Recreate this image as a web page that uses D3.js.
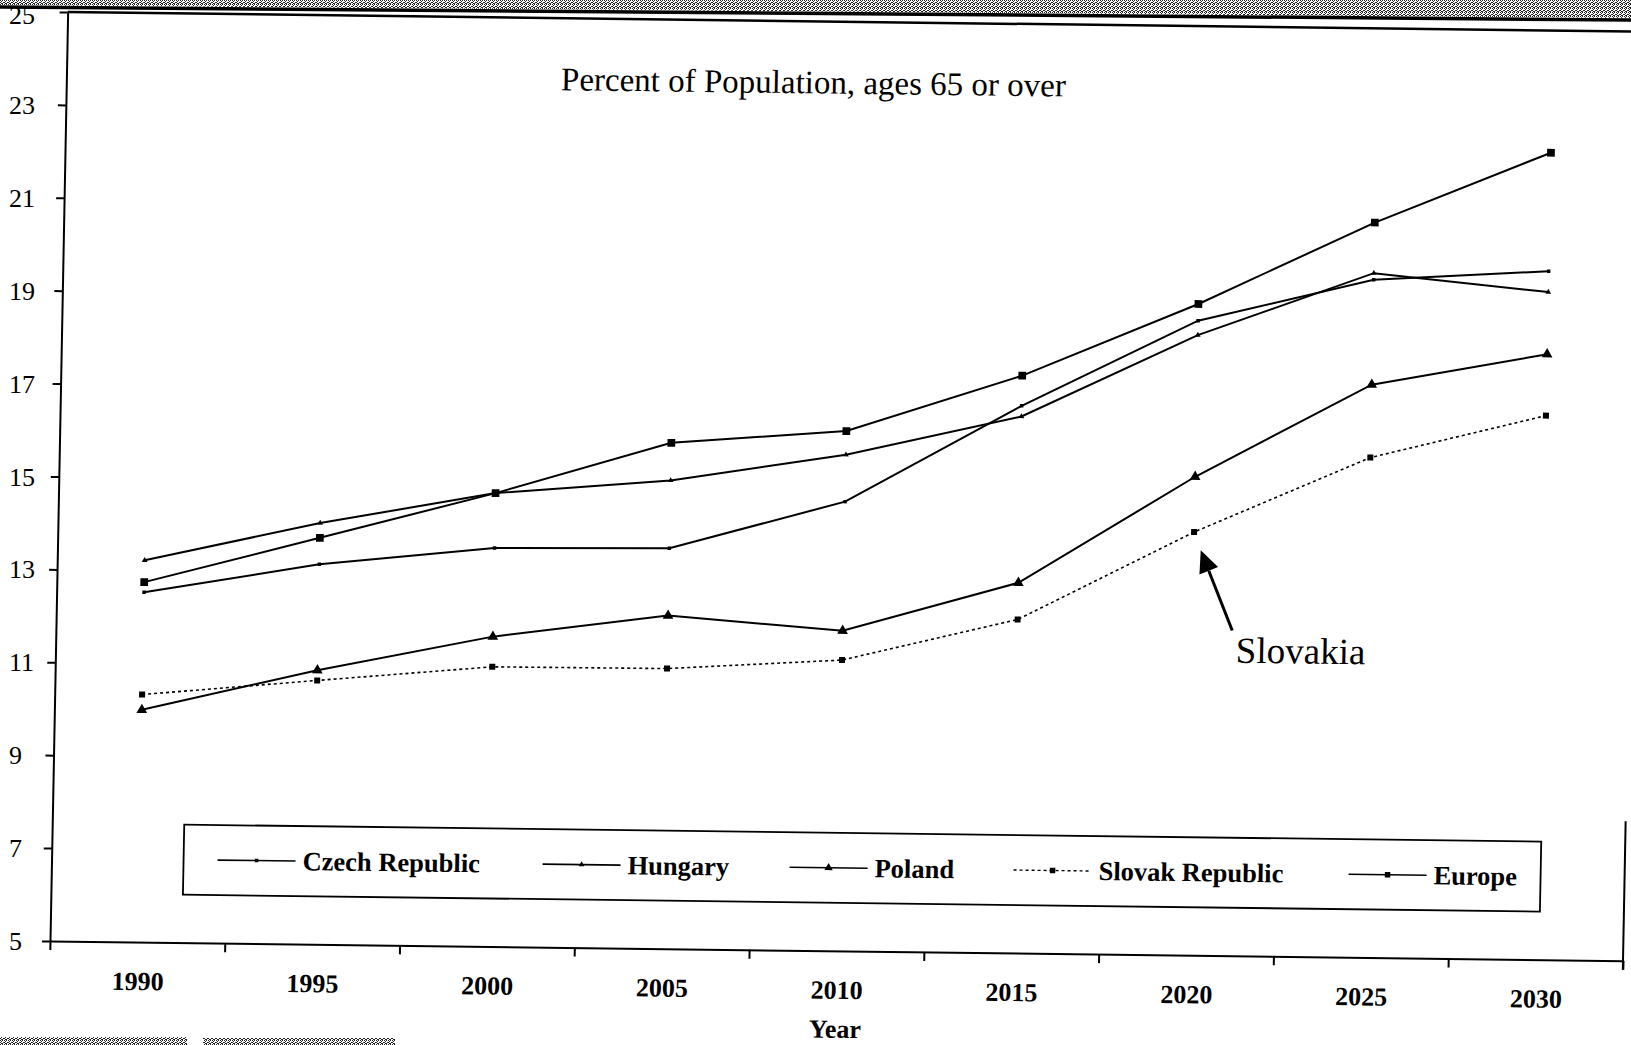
<!DOCTYPE html>
<html>
<head>
<meta charset="utf-8">
<script src="https://cdn.jsdelivr.net/npm/d3@7"></script>
<style>
	body { margin: 0; background: #fff; }
	svg { display: block; }
	text { font-family: "Liberation Serif", "Times New Roman", serif; fill: #000; }
</style>
</head>
<body>
<script>
// values (percent of population aged 65+)
var years = ["1990", "1995", "2000", "2005", "2010", "2015", "2020", "2025", "2030"];
var czech = [12.53, 13.18, 13.58, 13.62, 14.67, 16.78, 18.66, 19.59, 19.82];
var hungary = [13.22, 14.07, 14.76, 15.08, 15.68, 16.55, 18.35, 19.73, 19.37];
var poland = [10.00, 10.90, 11.67, 12.17, 11.89, 12.97, 15.30, 17.33, 18.03];
var slovak = [10.33, 10.68, 11.02, 11.03, 11.26, 12.18, 14.11, 15.76, 16.71];
var europe = [12.75, 13.75, 14.76, 15.89, 16.19, 17.43, 19.02, 20.82, 22.37];
var names = ["Czech Republic", "Hungary", "Poland", "Slovak Republic", "Europe"];
var yTicks = [5, 7, 9, 11, 13, 15, 17, 19, 21, 23, 25];

var width = 1631,
	height = 1045,
	plotL = 50,
	plotR = 1623,
	plotT = 12,
	plotB = 941;

var series = [
	{name: names[0], values: czech, marker: "square", size: 12, dash: null},
	{name: names[1], values: hungary, marker: "triangle", size: 14, dash: null},
	{name: names[2], values: poland, marker: "triangle", size: 50, dash: null},
	{name: names[3], values: slovak, marker: "square", size: 36, dash: "3,3"},
	{name: names[4], values: europe, marker: "square", size: 60, dash: null}
];

var svg = d3.select("body")
	.append("svg")
	.attr("width", width)
	.attr("height", height);

// halftone strip left by the scanner
var pat = svg.append("defs")
	.append("pattern")
	.attr("id", "dither")
	.attr("width", 4)
	.attr("height", 4)
	.attr("patternUnits", "userSpaceOnUse");
[[0, 0], [2, 0], [1, 1], [3, 2], [0, 2], [2, 3], [1, 3]].forEach(function(p) {
	pat.append("rect")
		.attr("x", p[0]).attr("y", p[1])
		.attr("width", 1).attr("height", 1)
		.attr("fill", "#222");
});

var x = d3.scaleBand().domain(years).range([plotL, plotR]);
var xEdge = d3.scaleLinear().domain([0, years.length]).range([plotL, plotR]);
var y = d3.scaleLinear().domain([5, 25]).range([plotB, plotT]);
var cx = function(i) { return x(years[i]) + x.bandwidth() / 2; };

// scanner edges
svg.append("path")
	.attr("d", "M0,0H" + width + "V18L0,5Z")
	.attr("fill", "url(#dither)");
svg.append("line")
	.attr("x1", 0).attr("y1", 7)
	.attr("x2", width).attr("y2", 20)
	.attr("stroke", "#000")
	.attr("stroke-width", 3.5);
svg.append("rect")
	.attr("x", 0).attr("y", 1037)
	.attr("width", 187).attr("height", 8)
	.attr("fill", "url(#dither)");
svg.append("rect")
	.attr("x", 203).attr("y", 1038)
	.attr("width", 192).attr("height", 7)
	.attr("fill", "url(#dither)");

// the page was scanned slightly skewed
var chart = svg.append("g")
	.attr("transform", "translate(" + plotL + "," + plotB + ") matrix(1,0.0125,-0.019,1,0,0) translate(" + (-plotL) + "," + (-plotB) + ")");

// frame
chart.append("line")
	.attr("x1", plotL).attr("x2", plotR + 20)
	.attr("y1", y(25)).attr("y2", y(25))
	.attr("stroke", "#000").attr("stroke-width", 2.5);

chart.append("line")
	.attr("x1", plotR).attr("x2", plotR)
	.attr("y1", y(5) + 9).attr("y2", y(8))
	.attr("stroke", "#000").attr("stroke-width", 2);

var yAxis = chart.append("g")
	.attr("transform", "translate(" + plotL + ",0)")
	.call(d3.axisLeft(y).tickValues(yTicks).tickSize(8).tickSizeOuter(0).tickFormat(""));

var xAxis = chart.append("g")
	.attr("transform", "translate(0," + plotB + ")")
	.call(d3.axisBottom(xEdge).tickValues(d3.range(years.length + 1)).tickSize(9).tickSizeOuter(0).tickFormat(""));

chart.selectAll(".domain, .tick line")
	.attr("stroke", "#000")
	.attr("stroke-width", 2);

chart.selectAll(".xlab")
	.data(years)
	.enter()
	.append("text")
	.attr("class", "xlab")
	.attr("x", function(d, i) { return cx(i) + 1; })
	.attr("y", plotB + 48)
	.attr("text-anchor", "middle")
	.attr("font-size", 26)
	.attr("font-weight", "bold")
	.text(function(d) { return d; });

chart.append("text")
	.attr("x", (plotL + plotR) / 2)
	.attr("y", plotB + 87)
	.attr("text-anchor", "middle")
	.attr("font-size", 26)
	.attr("font-weight", "bold")
	.text("Year");

chart.append("text")
	.attr("x", 797)
	.attr("y", 84)
	.attr("text-anchor", "middle")
	.attr("font-size", 33)
	.text("Percent of Population, ages 65 or over");

// series
var line = d3.line()
	.x(function(d, i) { return cx(i); })
	.y(function(d) { return y(d); });

function symbolPath(s, size) {
	var type = s.marker == "triangle" ? d3.symbolTriangle : d3.symbolSquare;
	return d3.symbol().type(type).size(size)();
}

series.forEach(function(s) {
	var g = chart.append("g").attr("class", "series");

	g.append("path")
		.attr("d", line(s.values))
		.attr("fill", "none")
		.attr("stroke", "#000")
		.attr("stroke-width", s.dash ? 1.6 : 2)
		.attr("stroke-dasharray", s.dash);

	g.selectAll("path.mk")
		.data(s.values)
		.enter()
		.append("path")
		.attr("class", "mk")
		.attr("transform", function(d, i) { return "translate(" + cx(i) + "," + y(d) + ")"; })
		.attr("d", symbolPath(s, s.size))
		.attr("fill", "#000");
});

// legend
var legendX = [216, 541, 788, 1012, 1347];
var legend = chart.append("g");

legend.append("rect")
	.attr("x", 182).attr("y", 823)
	.attr("width", 1357).attr("height", 70)
	.attr("fill", "none")
	.attr("stroke", "#000")
	.attr("stroke-width", 1.8);

series.forEach(function(s, i) {
	var lx = legendX[i];
	legend.append("line")
		.attr("x1", lx).attr("x2", lx + 78)
		.attr("y1", 858).attr("y2", 858)
		.attr("stroke", "#000")
		.attr("stroke-width", s.dash ? 1.4 : 1.6)
		.attr("stroke-dasharray", s.dash);
	legend.append("path")
		.attr("transform", "translate(" + (lx + 39) + ",858)")
		.attr("d", symbolPath(s, Math.min(s.size, 30)))
		.attr("fill", "#000");
	legend.append("text")
		.attr("x", lx + 85)
		.attr("y", 867)
		.attr("font-size", 26.5)
		.attr("font-weight", "bold")
		.text(s.name);
});

// Slovakia note with arrow, placed relative to the 2020 point
var ax = cx(6);
var tip = [ax + 7, y(13.72)],
	tail = [ax + 40, y(12.0)];
var len = Math.hypot(tip[0] - tail[0], tip[1] - tail[1]),
	ux = (tip[0] - tail[0]) / len,
	uy = (tip[1] - tail[1]) / len;
var base = [tip[0] - ux * 22, tip[1] - uy * 22];

chart.append("line")
	.attr("x1", tail[0]).attr("y1", tail[1])
	.attr("x2", base[0]).attr("y2", base[1])
	.attr("stroke", "#000")
	.attr("stroke-width", 3);

chart.append("path")
	.attr("d", "M" + tip + "L" + [base[0] - uy * 10, base[1] + ux * 10] + "L" + [base[0] + uy * 10, base[1] - ux * 10] + "Z")
	.attr("fill", "#000");

chart.append("text")
	.attr("x", ax + 44)
	.attr("y", y(11.31))
	.attr("font-size", 37)
	.text("Slovakia");

// y tick labels sit left-aligned on the page
svg.selectAll(".ylab")
	.data(yTicks)
	.enter()
	.append("text")
	.attr("class", "ylab")
	.attr("x", 9)
	.attr("y", function(d) { return d == 25 ? y(d) + 12 : y(d) + 9; })
	.attr("font-size", 26)
	.text(function(d) { return d; });
</script>
</body>
</html>
